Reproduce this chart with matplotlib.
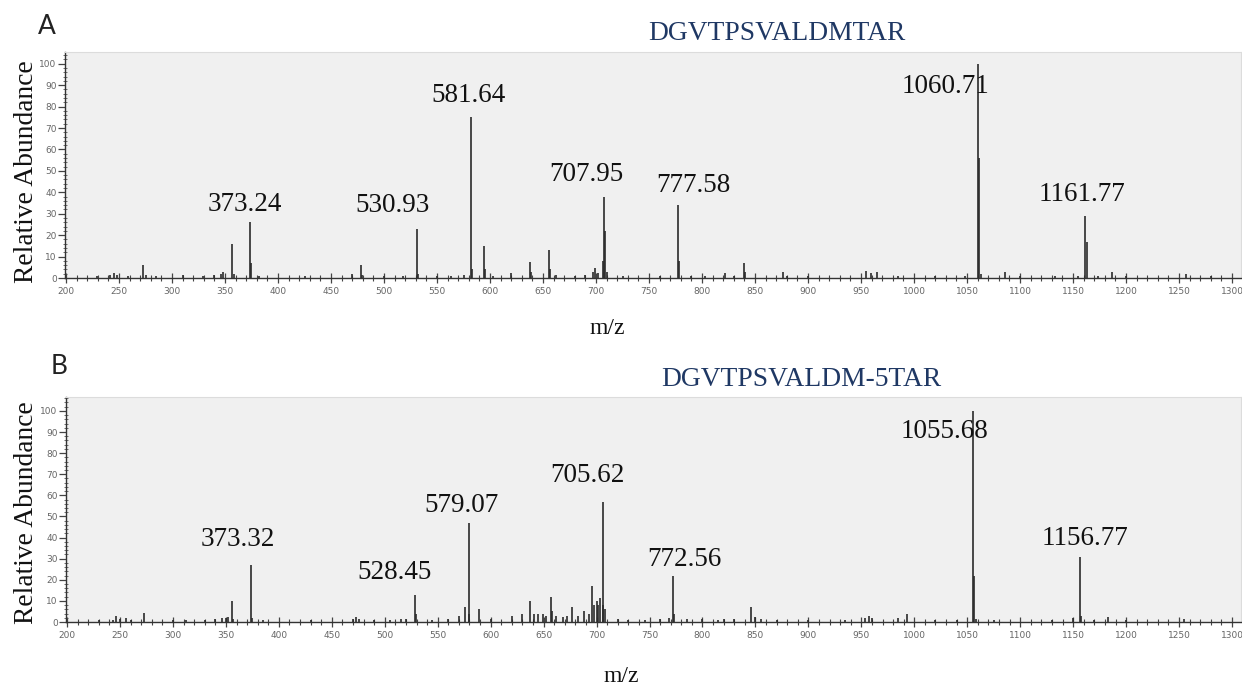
import matplotlib
matplotlib.use("Agg")
import matplotlib.pyplot as plt
from matplotlib.ticker import MultipleLocator

# ---- spectrum A: DGVTPSVALDMTAR ----
title_a = "DGVTPSVALDMTAR"
mz_a = [229, 241, 245, 248, 258, 273, 275, 285, 310, 329, 340, 346, 348, 357, 358,
        373.24, 374.2, 382, 425, 470, 478, 479, 500, 518, 530.93, 532, 550, 563, 575,
        581.64, 582.6, 594, 595, 603, 620, 638, 639, 656, 657, 662, 680, 690, 697, 699,
        702, 707, 707.95, 708.9, 710, 725, 760, 777.58, 778.6, 790, 803, 822, 830, 840,
        841, 876, 880, 900, 955, 959, 965, 985, 1020, 1048, 1060.71, 1061.7, 1063, 1086,
        1100, 1133, 1155, 1161.77, 1162.8, 1174, 1187, 1200, 1257, 1280]
int_a = [1, 1.5, 2.5, 1.2, 1, 6, 1.2, 0.8, 1.2, 1, 1.2, 2, 3, 16, 2,
         26, 7, 1, 0.8, 2, 6, 1.5, 1, 1, 23, 2, 0.8, 1, 1.5,
         75, 4, 15, 4, 1, 2.5, 7.5, 3, 13, 4, 1.5, 1, 1.5, 3, 4.5,
         2.5, 8, 38, 22, 3, 1, 1, 34, 8, 1, 1, 2.5, 1, 7,
         3, 3, 1, 0.8, 3.5, 2.5, 3, 1, 0.8, 1, 100, 56, 2, 3,
         1, 0.8, 1, 29, 17, 1, 3, 1, 2, 1]
labels_a = [373.24, 530.93, 581.64, 707.95, 777.58, 1060.71, 1161.77]
label_int_a = [26, 23, 75, 38, 34, 100, 29]

# ---- spectrum B: DGVTPSVALDM-5TAR ----
title_b = "DGVTPSVALDM-5TAR"
mz_b = [230, 243, 246, 250, 256, 260, 273, 300, 312, 330, 340, 346, 350, 352, 356, 357,
        373.32, 374.3, 385, 430, 470, 473, 476, 490, 505, 515, 520, 528.45, 529.4, 545,
        560, 570, 576, 579.07, 580, 589, 600, 620, 630, 637, 641, 645, 649, 652, 657, 658,
        662, 668, 672, 677, 682, 688, 693, 696, 698, 700, 701, 703, 705.62, 706.5, 708,
        720, 730, 746, 760, 768, 772.56, 773.5, 785, 800, 815, 820, 830, 846, 850, 855,
        870, 900, 935, 953, 957, 960, 985, 993, 1020, 1040, 1055.68, 1056.6, 1058, 1075,
        1130, 1150, 1156.77, 1157.7, 1170, 1183, 1200, 1255]
int_b = [1, 1, 3, 1.5, 2, 1, 4.5, 1, 1, 1, 1.2, 2, 2, 2.5, 10, 1.5,
         27, 2, 1, 1, 1.5, 2.5, 1.5, 1, 1, 1.5, 1.5, 13, 4, 1,
         1.5, 3, 7, 47, 4, 6, 1.5, 3, 4, 10, 4, 4, 4, 3, 12, 5,
         3, 2.5, 3, 7, 3, 5, 4, 17, 8, 10, 8, 11.5, 57, 8, 6,
         1.5, 1, 1, 1.5, 2, 22, 4, 1.5, 1.5, 1, 1.5, 1.5, 7, 2.5, 1.5,
         1, 1, 1, 2, 3, 2, 2, 4, 1, 1, 100, 22, 1.5, 1,
         1, 2, 31, 3, 1, 2.5, 1, 1.5]
labels_b = [373.32, 528.45, 579.07, 705.62, 772.56, 1055.68, 1156.77]
label_int_b = [27, 13, 47, 57, 22, 100, 31]

# label offsets (pixels) from each peak top: text centre x, text bottom y
offs_a = [(-5, 5), (-24, 11), (-2, 9), (-18, 10), (15, 7), (-33, -35), (-3, 9)]
offs_b = [(-13, 13), (-20, 10), (-7, 5), (-15, 14), (11, 4), (-29, -33), (5, 6)]

SERIF = ["Liberation Serif", "DejaVu Serif"]
BG = "#f0f0f0"
INK = "#2a2a2a"

fig = plt.figure(figsize=(12.42, 6.88), dpi=100)
W, H = 1242, 688


def panel(rect_px, mz, inten, lab_mz, lab_int, offs, ytop):
    x0, y0, x1, y1 = rect_px
    ax = fig.add_axes([x0 / W, 1 - y1 / H, (x1 - x0) / W, (y1 - y0) / H])
    ax.set_facecolor(BG)
    ax.vlines(mz, 0, inten, color=INK, linewidth=1.2)
    ax.set_xlim(199, 1308.5)
    ax.set_ylim(0, ytop)
    ax.xaxis.set_major_locator(MultipleLocator(50))
    ax.xaxis.set_minor_locator(MultipleLocator(10))
    ax.yaxis.set_major_locator(MultipleLocator(10))
    ax.yaxis.set_minor_locator(MultipleLocator(2))
    ax.set_yticks(range(0, 101, 10))
    ax.tick_params(axis="x", which="major", direction="inout", length=7, width=0.9,
                   color="#444", labelsize=6.5, labelcolor="#666", pad=3)
    ax.tick_params(axis="x", which="minor", direction="inout", length=4, width=0.8,
                   color="#444")
    ax.tick_params(axis="y", which="major", direction="out", length=5, width=0.9,
                   color="#444", labelsize=6.5, labelcolor="#666", pad=1)
    ax.tick_params(axis="y", which="minor", direction="inout", length=3, width=0.6,
                   color="#555")
    for s in ("left", "bottom"):
        ax.spines[s].set_color("#333")
        ax.spines[s].set_linewidth(1.0)
    for s in ("top", "right"):
        ax.spines[s].set_color("#dcdcdc")
        ax.spines[s].set_linewidth(0.8)
    for m, v, (dx, dy) in zip(lab_mz, lab_int, offs):
        ax.annotate(f"{m:.2f}", xy=(m, v), xytext=(dx, dy), textcoords="offset pixels",
                    ha="center", va="bottom", fontsize=19.5, family=SERIF, color="#111")
    return ax


panel((65, 52, 1241, 278), mz_a, int_a, labels_a, label_int_a, offs_a, 105.5)
panel((66, 397, 1241, 622), mz_b, int_b, labels_b, label_int_b, offs_b, 106.6)

# panel letters
fig.text(47 / W, 1 - 27 / H, "A", fontsize=19, family=["Lato", "DejaVu Sans"],
         ha="center", va="center", color="#222")
fig.text(59 / W, 1 - 367 / H, "B", fontsize=19, family=["Lato", "DejaVu Sans"],
         ha="center", va="center", color="#222")

# peptide titles
fig.text(777 / W, 1 - 33 / H, title_a, fontsize=19.8, family=SERIF,
         ha="center", va="center", color="#1f3864")
fig.text(801 / W, 1 - 380 / H, title_b, fontsize=19.8, family=SERIF,
         ha="center", va="center", color="#1f3864")

# axis titles
for yc in (172, 513):
    fig.text(27 / W, 1 - yc / H, "Relative Abundance", fontsize=19.8, family=SERIF,
             rotation=90, ha="center", va="center", color="#111")
fig.text(607 / W, 1 - 328 / H, "m/z", fontsize=17, family=SERIF,
         ha="center", va="center", color="#111")
fig.text(621 / W, 1 - 677 / H, "m/z", fontsize=17, family=SERIF,
         ha="center", va="center", color="#111")

fig.savefig("out.png", dpi=100, facecolor="white")
